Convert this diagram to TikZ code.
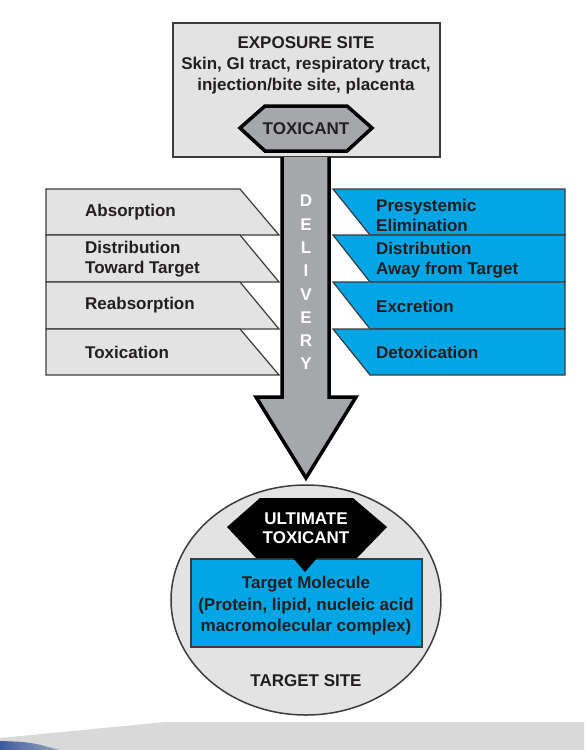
\documentclass[tikz,border=0pt]{standalone}
\usepackage{fontspec}
\setmainfont{Liberation Sans}
\usetikzlibrary{positioning}

\definecolor{boxgray}{HTML}{E3E3E3}
\definecolor{arrowgray}{HTML}{A5A7AA}
\definecolor{cyanblue}{HTML}{00A5E5}
\definecolor{inkdark}{HTML}{231F20}
\definecolor{edgegray}{HTML}{3C3C3C}
\definecolor{bandgray}{HTML}{D9D9D9}
\definecolor{swoosh}{HTML}{3A5C9C}

\begin{document}
\begin{tikzpicture}[
            x = 1pt, y = -1pt, % pixel coordinates, y runs downward
            font = \bfseries\fontsize{17}{20}\selectfont,
            text = inkdark,
            rowtext/.style = {anchor = west, align = left, inner sep = 0pt},
            leftrow/.style = {fill = boxgray, draw = edgegray, line width = 1.2pt},
            rightrow/.style = {fill = cyanblue, draw = edgegray, line width = 1.2pt},
            letter/.style = {text = white, inner sep = 0pt},
            plate/.style = {draw = edgegray, line width = 1.2pt}
        ]

	\useasboundingbox (0,0) rectangle (584,750);

	% slide band at the bottom
	\fill[bandgray] (0,750) -- (0,738) -- (165,722) -- (584,722) -- (584,750) -- cycle;
	\shade[left color = swoosh, right color = swoosh!40!bandgray]
		(0,741) .. controls (30,742) .. (60,750) -- (0,750) -- cycle;

	% exposure site
	\draw[plate, fill = boxgray] (173,23) rectangle (440,157);
	\node[align = center, font = \bfseries\fontsize{17}{21}\selectfont] (site) at (306,65)
		{EXPOSURE SITE\\Skin, GI tract, respiratory tract,\\injection/bite site, placenta};

	% left and right rows
	\foreach \top/\bot in {189/235, 235/282, 282/329, 329/375} {
		\draw[leftrow] (46,\top) -- (240,\top) -- (279,\bot) -- (46,\bot) -- cycle;
		\draw[rightrow] (333,\top) -- (565,\top) -- (565,\bot) -- (370,\bot) -- cycle;
	}

	\node[rowtext] (absorb) at (85,212) {Absorption};
	\node[rowtext] (toward) at (85,259) {Distribution\\Toward Target};
	\node[rowtext] (reabsorb) at (85,305) {Reabsorption};
	\node[rowtext] (toxic) at (85,352) {Toxication};

	\node[rowtext] (presys) at (376,215) {Presystemic\\Elimination};
	\node[rowtext] (away) at (376,260) {Distribution\\Away from Target};
	\node[rowtext] (excrete) at (376,306) {Excretion};
	\node[rowtext] (detox) at (376,352) {Detoxication};

	% delivery arrow
	\draw[fill = arrowgray, line width = 3.5pt, line join = miter]
		(282,157) -- (282,397) -- (256,397) -- (306,478) -- (356,397) -- (329,397) -- (329,157);
	\foreach \ch [count = \i] in {D,E,L,I,V,E,R,Y}
		\node[letter] (d\i) at (306,{201+23.3*(\i-1)}) {\ch};

	% toxicant
	\draw[fill = arrowgray, line width = 3.5pt]
		(240,128) -- (265,106) -- (347,106) -- (372,128) -- (347,151) -- (265,151) -- cycle;
	\node (toxicant) at (306,129) {TOXICANT};

	% target site
	\draw[fill = boxgray, draw = edgegray, line width = 1.5pt] (306,600) ellipse [x radius = 135, y radius = 115];
	\draw[plate, fill = cyanblue] (191,559) rectangle (422,647);
	\fill[black] (227,527) -- (260,498) -- (353,498) -- (387,527) -- (357,558)
		-- (317,558) -- (305,572) -- (293,558) -- (256,558) -- cycle;
	\node[align = center, text = white, font = \bfseries\fontsize{17}{19}\selectfont] (ultimate) at (306,528)
		{ULTIMATE\\TOXICANT};
	\node[align = center, font = \bfseries\fontsize{17}{21.5}\selectfont] (molecule) at (306,606)
		{Target Molecule\\(Protein, lipid, nucleic acid\\macromolecular complex)};
	\node (target) at (306,681) {TARGET SITE};

\end{tikzpicture}
\end{document}
